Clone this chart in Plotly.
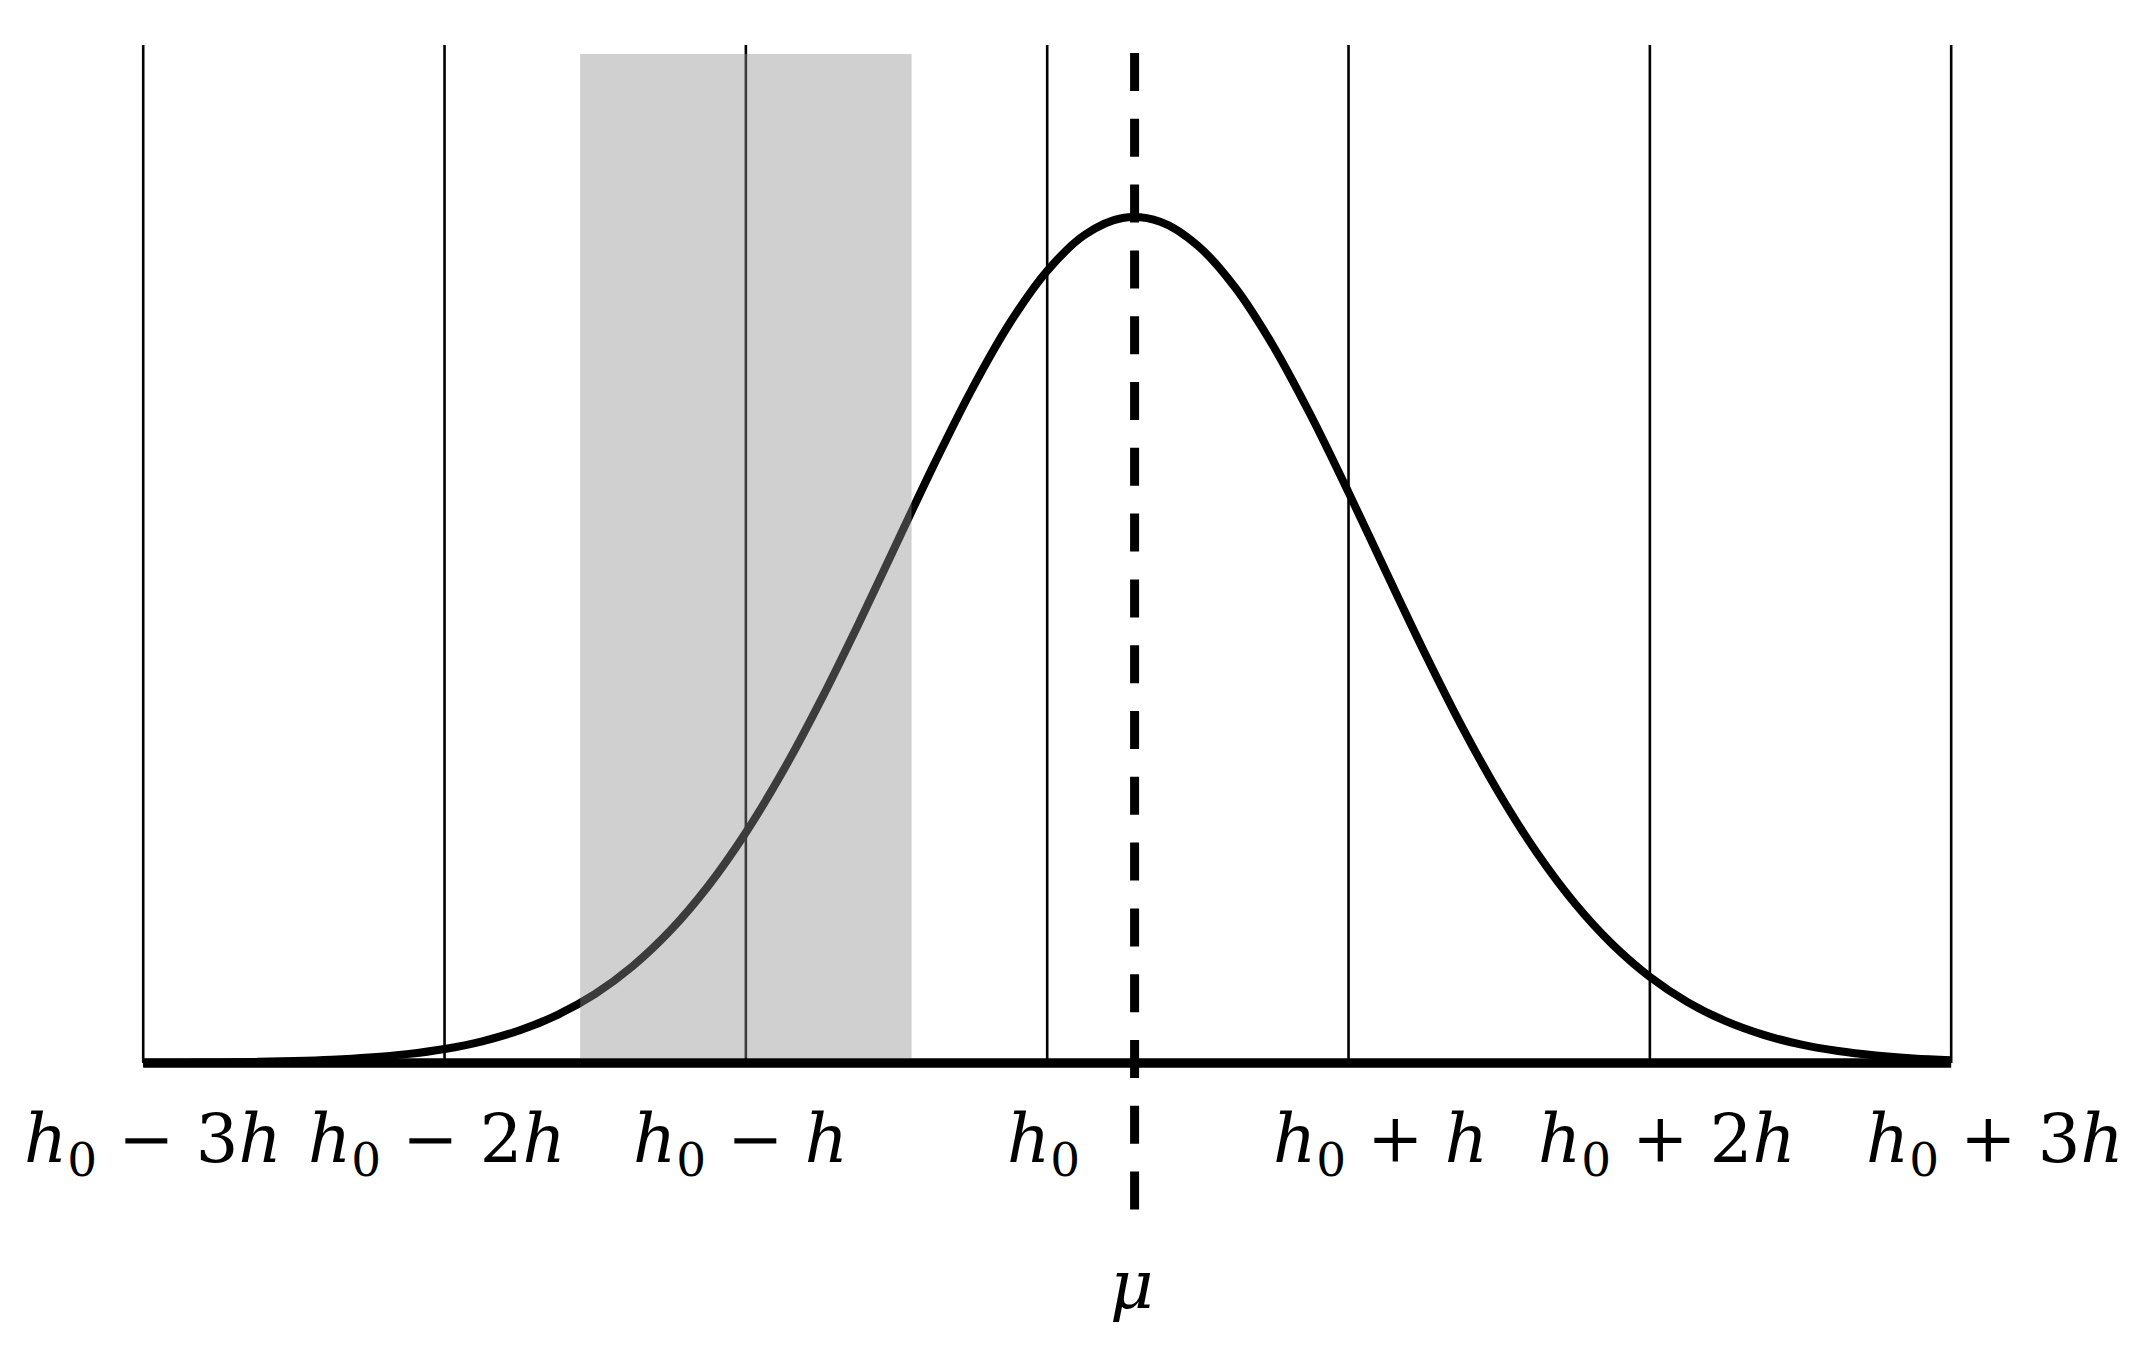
import plotly.graph_objects as go

# ---- data ----
tick_vals = [-3, -2, -1, 0, 1, 2, 3]
tick_labels = [
    "<i>h</i><sub>0</sub> − 3<i>h</i>",
    "<i>h</i><sub>0</sub> − 2<i>h</i>",
    "<i>h</i><sub>0</sub> − <i>h</i>",
    "<i>h</i><sub>0</sub>",
    "<i>h</i><sub>0</sub> + <i>h</i>",
    "<i>h</i><sub>0</sub> + 2<i>h</i>",
    "<i>h</i><sub>0</sub> + 3<i>h</i>",
]
curve_x = [-3, -2.875, -2.75, -2.625, -2.5, -2.375, -2.25, -2.125, -2, -1.875, -1.75, -1.625,
           -1.5, -1.375, -1.25, -1.125, -1, -0.875, -0.75, -0.625, -0.5, -0.375, -0.25, -0.125,
           0, 0.125, 0.25, 0.375, 0.5, 0.625, 0.75, 0.875, 1, 1.125, 1.25, 1.375,
           1.5, 1.625, 1.75, 1.875, 2, 2.125, 2.25, 2.375, 2.5, 2.625, 2.75, 2.875, 3]
curve_y = [0.0002, 0.0004, 0.0007, 0.0013, 0.0023, 0.0039, 0.0065, 0.0105, 0.0166, 0.0257,
           0.0387, 0.0570, 0.0818, 0.1147, 0.1568, 0.2092, 0.2725, 0.3463, 0.4296, 0.5199,
           0.6141, 0.7079, 0.7963, 0.8741, 0.9364, 0.9790, 0.9988, 0.9944, 0.9661, 0.9161,
           0.8476, 0.7654, 0.6745, 0.5800, 0.4868, 0.3986, 0.3186, 0.2485, 0.1891, 0.1405,
           0.1018, 0.0720, 0.0497, 0.0335, 0.0220, 0.0141, 0.0089, 0.0054, 0.0032]
mu = 0.29
window_lo = -1.55
window_hi = -0.45

# ---- layout constants ----
W, H = 2139, 1359
OFF = 8  # page body margin
FW, FH = W - 2 * OFF, H - 2 * OFF
ML, MR, MT, MB = 90, 90, 12, 12
px_per_x = 301.33
x0_px = 1047.2 - OFF
px_per_y = 846.0
y0_px = 1063.0 - OFF
x_range = [(ML - x0_px) / px_per_x, (FW - MR - x0_px) / px_per_x]
y_range = [(y0_px - (FH - MB)) / px_per_y, (y0_px - MT) / px_per_y]

def ypx(p):
    return (y0_px - (p - OFF)) / px_per_y

line_top = ypx(45)
rect_top = ypx(54)
rect_bot = ypx(1058)
dash_top = ypx(53)
dash_bot = ypx(1209.5)
label_y = ypx(1143)
mu_label_y = ypx(1285)
label_shift = [10, -8, -5, -4, 32, 17, 44]

fig = go.Figure()

# vertical grid lines
for t in tick_vals:
    fig.add_trace(go.Scatter(x=[t, t], y=[0, line_top], mode="lines",
                             line=dict(color="black", width=2.6),
                             hoverinfo="skip", showlegend=False))

# curve
fig.add_trace(go.Scatter(x=curve_x, y=curve_y, mode="lines",
                         line=dict(color="black", width=8, shape="spline", simplify=False),
                         hoverinfo="skip", showlegend=False))

# baseline
fig.add_trace(go.Scatter(x=[tick_vals[0], tick_vals[-1]], y=[0, 0], mode="lines",
                         line=dict(color="black", width=9.5),
                         hoverinfo="skip", showlegend=False))

# dashed mu line
fig.add_trace(go.Scatter(x=[mu, mu], y=[dash_top, dash_bot], mode="lines",
                         line=dict(color="black", width=9, dash="38px,27.8px"),
                         hoverinfo="skip", showlegend=False))

# shaded window (drawn above)
fig.add_shape(type="rect", xref="x", yref="y", x0=window_lo, x1=window_hi,
              y0=rect_bot, y1=rect_top, layer="above",
              fillcolor="rgba(143,143,143,0.42)", line=dict(width=0))

font = dict(family="DejaVu Serif", size=67, color="black")
for t, lab, s in zip(tick_vals, tick_labels, label_shift):
    fig.add_annotation(x=t, y=label_y, xref="x", yref="y", text=lab, showarrow=False,
                       xanchor="center", yanchor="middle", xshift=s, font=font)

fig.add_annotation(x=mu, y=mu_label_y, xref="x", yref="y", text="<i>μ</i>", showarrow=False,
                   xanchor="center", yanchor="middle", xshift=-3, font=font)

fig.update_xaxes(range=x_range, showgrid=False, zeroline=False, showticklabels=False,
                 showline=False, ticks="")
fig.update_yaxes(range=y_range, showgrid=False, zeroline=False, showticklabels=False,
                 showline=False, ticks="")
fig.update_layout(width=FW, height=FH, margin=dict(l=ML, r=MR, t=MT, b=MB),
                  paper_bgcolor="white", plot_bgcolor="white", showlegend=False)

fig.write_html("out.html")
